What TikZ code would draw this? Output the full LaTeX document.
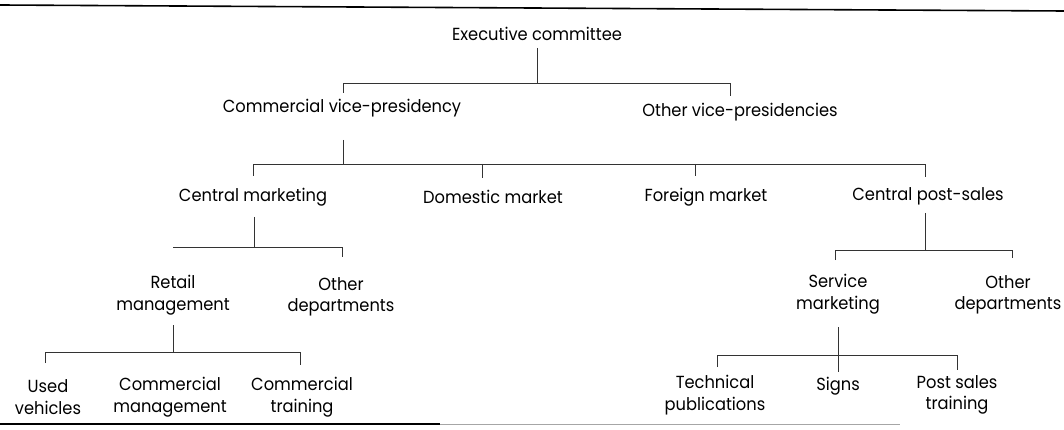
\documentclass[tikz,border=0pt]{standalone}
\usepackage{fontspec}
\setmainfont{Poppins}[FakeStretch=0.93]
\begin{document}
\begin{tikzpicture}[x=1pt,y=-1pt,
  lbl/.style={font=\fontsize{17.5}{21.5}\selectfont, inner sep=0pt, align=center, text=black},
  ln/.style={line width=0.8pt, black!80},
  rule/.style={line width=1.6pt, black}]
\useasboundingbox (0,0) rectangle (1064,430);
% rules
\coordinate (tl) at (0,5); \coordinate (tr) at (1064,11);
\draw[rule] (tl) -- (tr);
\coordinate (bl) at (0,424); \coordinate (bm) at (440,424); \coordinate (br) at (900,424);
\draw[rule, line width=1.4pt] (bl) -- (bm);
\draw[line width=0.8pt, black!35] (bm) -- (br);
% nodes
\node[lbl] (exec) at (537,34) {Executive committee};
\node[lbl] (cvp) at (342,108) {Commercial vice-presidency};
\node[lbl] (ovp) at (740,112) {Other vice-presidencies};
\node[lbl] (cm) at (253,197) {Central marketing};
\node[lbl] (dm) at (493,197) {Domestic market};
\node[lbl] (fm) at (706,197) {Foreign market};
\node[lbl] (cps) at (928,196) {Central post-sales};
\node[lbl] (rm) at (173,295) {Retail\\management};
\node[lbl] (od1) at (341,297) {Other\\departments};
\node[lbl] (sm) at (838,294) {Service\\marketing};
\node[lbl] (od2) at (1008,295) {Other\\departments};
\node[lbl] (uv) at (48,397) {Used\\vehicles};
\node[lbl] (cmg) at (170,397) {Commercial\\management};
\node[lbl] (ct) at (302,397) {Commercial\\training};
\node[lbl] (tp) at (715,395) {Technical\\publications};
\node[lbl] (sg) at (838,386) {Signs};
\node[lbl] (pst) at (957,395) {Post sales\\training};
% level 1
\coordinate (e0) at (537,48); \coordinate (e1) at (537,83);
\coordinate (e1l) at (343,83); \coordinate (e1r) at (730,83);
\coordinate (e1ld) at (343,93); \coordinate (e1rd) at (730,96);
\draw[ln] (e0) -- (e1);
\draw[ln] (e1ld) -- (e1l) -- (e1r) -- (e1rd);
% level 2
\coordinate (c0) at (343,140); \coordinate (c1) at (343,164);
\coordinate (c1a) at (253,164); \coordinate (c1b) at (482,164);
\coordinate (c1c) at (695,164); \coordinate (c1d) at (925,164);
\coordinate (c1ad) at (253,176); \coordinate (c1bd) at (482,178);
\coordinate (c1cd) at (695,176); \coordinate (c1dd) at (925,177);
\draw[ln] (c0) -- (c1);
\draw[ln] (c1ad) -- (c1a) -- (c1d) -- (c1dd);
\draw[ln] (c1b) -- (c1bd);
\draw[ln] (c1c) -- (c1cd);
% level 3 left
\coordinate (m0) at (254,217); \coordinate (m1) at (254,247);
\coordinate (m1a) at (173,247); \coordinate (m1b) at (342,247); \coordinate (m1bd) at (342,257);
\draw[ln] (m0) -- (m1);
\draw[ln] (m1a) -- (m1b) -- (m1bd);
% level 3 right
\coordinate (p0) at (925,213); \coordinate (p1) at (925,250);
\coordinate (p1a) at (835,250); \coordinate (p1b) at (1012,250);
\coordinate (p1ad) at (835,260); \coordinate (p1bd) at (1012,258);
\draw[ln] (p0) -- (p1);
\draw[ln] (p1ad) -- (p1a) -- (p1b) -- (p1bd);
% level 4 left
\coordinate (r0) at (173,325); \coordinate (r1) at (173,352);
\coordinate (r1a) at (45,352); \coordinate (r1b) at (300,352);
\coordinate (r1ad) at (45,363); \coordinate (r1bd) at (300,365);
\draw[ln] (r0) -- (r1);
\draw[ln] (r1ad) -- (r1a) -- (r1b) -- (r1bd);
% level 4 right
\coordinate (s0) at (838,327); \coordinate (s1) at (838,355);
\coordinate (s1a) at (717,355); \coordinate (s1b) at (957,355);
\coordinate (s1ad) at (717,367); \coordinate (s1bd) at (957,370); \coordinate (s1cd) at (838,372);
\draw[ln] (s0) -- (s1) -- (s1cd);
\draw[ln] (s1ad) -- (s1a) -- (s1b) -- (s1bd);
\end{tikzpicture}
\end{document}
